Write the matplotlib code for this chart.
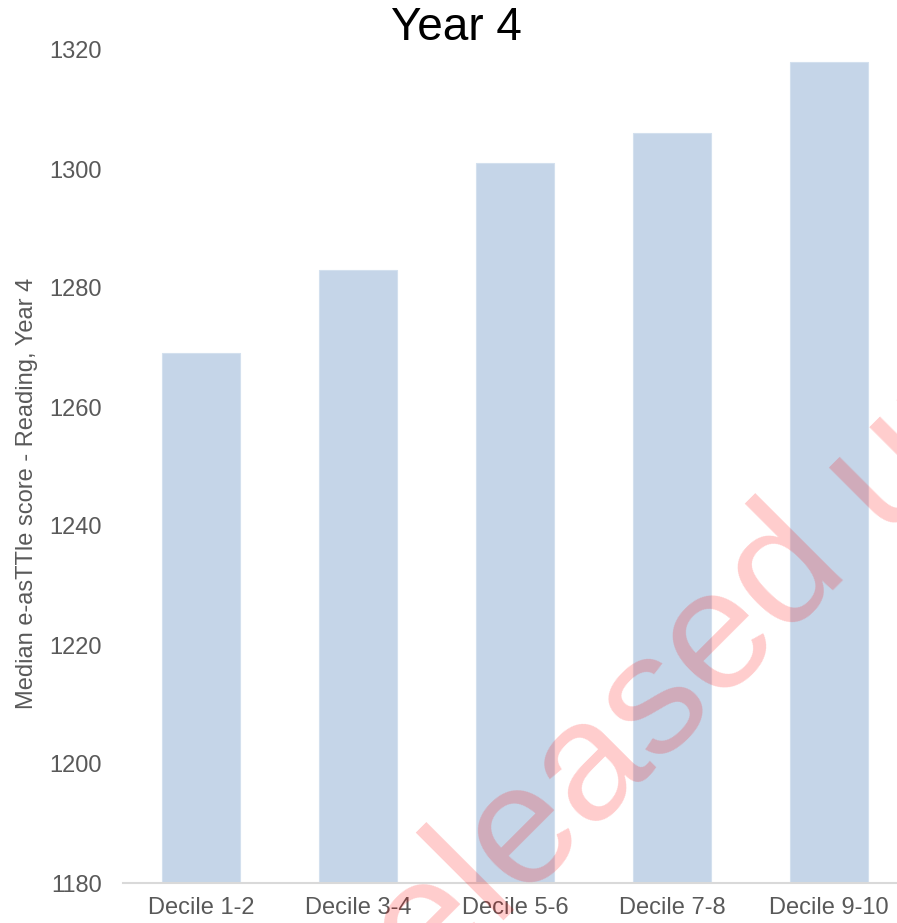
import matplotlib
matplotlib.use("Agg")
import matplotlib.pyplot as plt

plt.rcParams['font.family'] = ['Liberation Sans', 'DejaVu Sans']

categories = ["Decile 1-2", "Decile 3-4", "Decile 5-6", "Decile 7-8", "Decile 9-10"]
scores = [1269, 1283, 1301, 1306, 1318]
y_ticks = [1180, 1200, 1220, 1240, 1260, 1280, 1300, 1320]

W, H = 897, 923
fig = plt.figure(figsize=(W / 100, H / 100), dpi=100)
ax_left, ax_w = 122.5, 785
ax_bottom, ax_h = 40, 833
ax = fig.add_axes([ax_left / W, ax_bottom / H, ax_w / W, ax_h / H])

x = list(range(len(categories)))
ax.bar(x, scores, width=0.5, color="#c5d5e8", edgecolor="#d3e0ee", linewidth=0.8, zorder=2)

ax.set_xlim(-0.5, len(categories) - 0.5)
ax.set_ylim(1180, 1320)
ax.set_yticks(y_ticks)
ax.set_xticks(x)
ax.set_xticklabels(categories)

for side in ("top", "right", "left"):
    ax.spines[side].set_visible(False)
ax.spines["bottom"].set_color("#d9d9d9")
ax.spines["bottom"].set_linewidth(1.5)

ax.tick_params(axis="y", length=0, pad=15, labelsize=17, labelcolor="#595959")
ax.tick_params(axis="x", length=0, pad=10, labelsize=17, labelcolor="#595959")

ax.set_ylabel("Median e-asTTle score - Reading, Year 4", fontsize=17, color="#595959", va="center")
ax.yaxis.set_label_coords((27 - ax_left) / ax_w, 0.468)

fig.text(456 / W, 1 - 28 / H, "Year 4", fontsize=33, color="black", ha="center", va="center")

# diagonal release stamp
fig.text(342 / W, (H - 1083) / H, "Released under the Official Information Act",
         fontsize=123, color="red", alpha=0.2, rotation=45, rotation_mode="anchor",
         ha="left", va="baseline", zorder=10)

fig.savefig("out.png", dpi=100)
